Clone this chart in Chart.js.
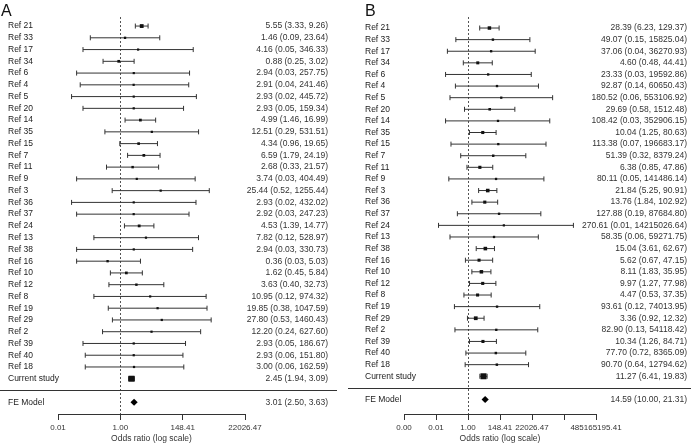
<!DOCTYPE html>
<html>
<head>
<meta charset="utf-8">
<script src="https://cdn.jsdelivr.net/npm/chart.js@4.4.1/dist/chart.umd.min.js"></script>
<style>
    body { margin: 0; background: #fff; width: 691px; height: 448px; overflow: hidden; position: relative; }
    #chartA { position: absolute; left: 0; top: 0; }
    #chartB { position: absolute; left: 345px; top: 0; }
</style>
</head>
<body>
<canvas id="chartA" width="345" height="448"></canvas>
<canvas id="chartB" width="346" height="448"></canvas>
<script>
// study rows, same order in both panels
const rowLabels = ['Ref 21', 'Ref 33', 'Ref 17', 'Ref 34', 'Ref 6', 'Ref 4', 'Ref 5', 'Ref 20', 'Ref 14', 'Ref 35',
    'Ref 15', 'Ref 7', 'Ref 11', 'Ref 9', 'Ref 3', 'Ref 36', 'Ref 37', 'Ref 24', 'Ref 13', 'Ref 38',
    'Ref 16', 'Ref 10', 'Ref 12', 'Ref 8', 'Ref 19', 'Ref 29', 'Ref 2', 'Ref 39', 'Ref 40', 'Ref 18', 'Current study'];

// panel A
const orA = [5.55, 1.46, 4.16, 0.88, 2.94, 2.91, 2.93, 2.93, 4.99, 12.51,
    4.34, 6.59, 2.68, 3.74, 25.44, 2.93, 2.92, 4.53, 7.82, 2.94,
    0.36, 1.62, 3.63, 10.95, 19.85, 27.80, 12.20, 2.93, 2.93, 3.00, 2.45];
const lowA = [3.33, 0.09, 0.05, 0.25, 0.03, 0.04, 0.02, 0.05, 1.46, 0.29,
    0.96, 1.79, 0.33, 0.03, 0.52, 0.02, 0.03, 1.39, 0.12, 0.03,
    0.03, 0.45, 0.40, 0.12, 0.38, 0.53, 0.24, 0.05, 0.06, 0.06, 1.94];
const highA = [9.26, 23.64, 346.33, 3.02, 257.75, 241.46, 445.72, 159.34, 16.99, 531.51,
    19.65, 24.19, 21.57, 404.49, 1255.44, 432.02, 247.23, 14.77, 528.97, 330.73,
    5.03, 5.84, 32.73, 974.32, 1047.59, 1460.43, 627.60, 186.67, 151.80, 162.59, 3.09];
const feA = [3.01, 2.50, 3.63];
const tickExpA = [-5, 0, 5, 10];
const tickLabelsA = ['0.01', '1.00', '148.41', '22026.47'];

// panel B
const orB = [28.39, 49.07, 37.06, 4.60, 23.33, 92.87, 180.52, 29.69, 108.42, 10.04,
    113.38, 51.39, 6.38, 80.11, 21.84, 13.76, 127.88, 270.61, 58.35, 15.04,
    5.62, 8.11, 9.97, 4.47, 93.61, 3.36, 82.90, 10.34, 77.70, 90.70, 11.27];
const lowB = [6.23, 0.15, 0.04, 0.48, 0.03, 0.14, 0.06, 0.58, 0.03, 1.25,
    0.07, 0.32, 0.85, 0.05, 5.25, 1.84, 0.19, 0.01, 0.06, 3.61,
    0.67, 1.83, 1.27, 0.53, 0.12, 0.92, 0.13, 1.26, 0.72, 0.64, 6.41];
const highB = [129.37, 15825.04, 36270.93, 44.41, 19592.86, 60650.43, 553106.92, 1512.48, 352906.15, 80.63,
    196683.17, 8379.24, 47.86, 141486.14, 90.91, 102.92, 87684.80, 14215026.64, 59271.75, 62.67,
    47.15, 35.95, 77.98, 37.35, 74013.95, 12.32, 54118.42, 84.71, 8365.09, 12794.62, 19.83];
const feB = [14.59, 10.00, 21.31];
const tickExpB = [-10, -5, 0, 5, 10, 15, 20];
const tickLabelsB = ['0.00', '0.01', '1.00', '148.41', '22026.47', '', '485165195.41'];

Chart.defaults.font.family = '"Liberation Sans", Arial, sans-serif';
Chart.defaults.font.size = 8.5;
Chart.defaults.color = '#333';

function fmt(v) {
    return v.toFixed(2);
}

// horizontal rule above the summary row + panel letter
const extrasPlugin = {
    id: 'extras',
    afterDraw(chart, args, opts) {
        const ctx = chart.ctx;
        const y = Math.round(chart.scales.y.getPixelForValue(opts.ruleRow)) + 0.5;
        ctx.save();
        ctx.strokeStyle = '#333';
        ctx.lineWidth = 1;
        ctx.beginPath();
        ctx.moveTo(opts.ruleFrom, y);
        ctx.lineTo(opts.ruleTo, y);
        ctx.stroke();
        ctx.fillStyle = '#111';
        ctx.font = '16px "Liberation Sans", Arial, sans-serif';
        ctx.textBaseline = 'alphabetic';
        ctx.fillText(opts.letter, opts.letterX, opts.letterY);
        ctx.restore();
    }
};

function drawForest(canvasId, est, low, high, fe, tickExp, tickLabels, layout) {
    var rows = est.map((e, i) => i);
    var feRow = rows.length + 1;

    // square size follows inverse-variance weight taken from the CI width
    var weights = rows.map(i => {
        var se = (Math.log(high[i]) - Math.log(low[i])) / 3.92;
        return 1 / (se * se);
    });
    var wMax = Math.max(...weights);
    var radii = weights.map(w => (2 + 4 * Math.sqrt(w / wMax)) / 1.414);

    var ciData = [];
    rows.forEach(i => {
        ciData.push({x: low[i], y: i}, {x: high[i], y: i}, {x: null, y: i});
    });

    var leftText = {};
    var rightText = {};
    rows.forEach(i => {
        leftText[i] = rowLabels[i];
        rightText[i] = `${fmt(est[i])} (${fmt(low[i])}, ${fmt(high[i])})`;
    });
    leftText[feRow] = 'FE Model';
    rightText[feRow] = `${fmt(fe[0])} (${fmt(fe[1])}, ${fmt(fe[2])})`;
    var rowTicks = rows.concat([feRow]).map(v => ({value: v}));

    var ctx = document.getElementById(canvasId).getContext('2d');
    return new Chart(ctx, {
        type: 'scatter',
        data: {
            datasets: [
                {
                    data: est.map((e, i) => ({x: e, y: i})),
                    pointStyle: 'rect',
                    pointRadius: radii,
                    backgroundColor: '#111',
                    borderWidth: 0
                },
                {
                    data: [{x: fe[0], y: feRow}],
                    pointStyle: 'rectRot',
                    pointRadius: 3.6,
                    backgroundColor: '#000',
                    borderWidth: 0
                },
                {
                    data: ciData,
                    showLine: true,
                    borderColor: '#333',
                    borderWidth: 1,
                    pointStyle: 'line',
                    pointRotation: 90,
                    pointRadius: 2.5,
                    pointBorderColor: '#333',
                    pointBorderWidth: 1
                }
            ]
        },
        options: {
            responsive: false,
            animation: false,
            layout: {padding: layout.padding},
            plugins: {
                legend: {display: false},
                tooltip: {enabled: false},
                extras: layout.extras
            },
            scales: {
                x: {
                    type: 'logarithmic',
                    min: Math.exp(tickExp[0]),
                    max: Math.exp(tickExp[tickExp.length - 1]),
                    afterBuildTicks: s => { s.ticks = tickExp.map(v => ({value: Math.exp(v)})); },
                    afterFit: s => { s.height = 34; },
                    ticks: {
                        autoSkip: false,
                        maxRotation: 0,
                        padding: 3,
                        font: {size: 8},
                        callback: (v, i) => tickLabels[i]
                    },
                    grid: {
                        color: c => (c.tick && c.tick.value === 1) ? '#555' : 'rgba(0,0,0,0)',
                        tickColor: '#333',
                        tickLength: 6,
                        lineWidth: 1
                    },
                    border: {display: true, color: '#333', dash: [2, 2]},
                    title: {
                        display: true,
                        text: 'Odds ratio (log scale)',
                        font: {size: 8.5},
                        padding: {top: 0, bottom: 4}
                    }
                },
                // both row-label axes are mirrored so their text is not clipped
                // to the axis box; the padding then only shifts the text
                y: {
                    type: 'linear',
                    position: 'left',
                    reverse: true,
                    min: layout.yMin,
                    max: layout.yMax,
                    afterBuildTicks: s => { s.ticks = rowTicks.map(t => ({value: t.value})); },
                    afterFit: s => { s.width = layout.leftWidth; s.paddingTop = 0; s.paddingBottom = 0; },
                    ticks: {
                        autoSkip: false,
                        mirror: true,
                        padding: -layout.leftWidth,
                        color: '#222',
                        callback: v => leftText[v]
                    },
                    grid: {display: false},
                    border: {display: false}
                },
                yR: {
                    type: 'linear',
                    position: 'right',
                    reverse: true,
                    min: layout.yMin,
                    max: layout.yMax,
                    afterBuildTicks: s => { s.ticks = rowTicks.map(t => ({value: t.value})); },
                    afterFit: s => { s.width = layout.rightWidth; s.paddingTop = 0; s.paddingBottom = 0; },
                    ticks: {
                        autoSkip: false,
                        mirror: true,
                        padding: layout.rightWidth,
                        font: {size: 8.5},
                        callback: v => rightText[v]
                    },
                    grid: {display: false},
                    border: {display: false}
                }
            }
        },
        plugins: [extrasPlugin]
    });
}

drawForest('chartA', orA, lowA, highA, feA, tickExpA, tickLabelsA, {
    padding: {left: 8, right: 17, top: 17, bottom: 0},
    leftWidth: 50,
    rightWidth: 83,
    yMin: -0.77,
    yMax: 33.0,
    extras: {ruleRow: 31, ruleFrom: 0, ruleTo: 337, letter: 'A', letterX: 1, letterY: 16}
});

drawForest('chartB', orB, lowB, highB, feB, tickExpB, tickLabelsB, {
    padding: {left: 20, right: 4, top: 17, bottom: 0},
    leftWidth: 39,
    rightWidth: 91,
    yMin: -0.95,
    yMax: 33.25,
    extras: {ruleRow: 31, ruleFrom: 3, ruleTo: 346, letter: 'B', letterX: 20, letterY: 16}
});
</script>
</body>
</html>
